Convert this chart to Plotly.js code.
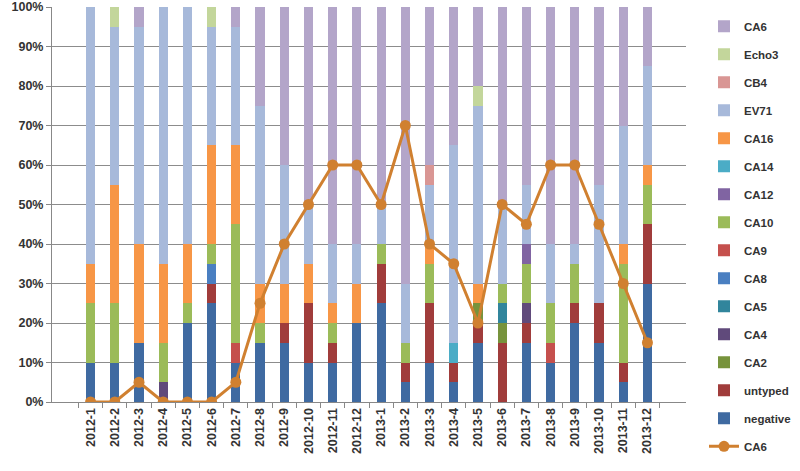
<!DOCTYPE html>
<html>
<head>
<meta charset="utf-8">
<script src="https://cdn.plot.ly/plotly-3.0.1.min.js"></script>
<style>html,body{margin:0;padding:0;background:#fff;}#chart{width:800px;height:471px;}</style>
</head>
<body>
<div id="chart"></div>
<script>
const categories = ["2012-1","2012-2","2012-3","2012-4","2012-5","2012-6","2012-7","2012-8","2012-9","2012-10","2012-11","2012-12",
                    "2013-1","2013-2","2013-3","2013-4","2013-5","2013-6","2013-7","2013-8","2013-9","2013-10","2013-11","2013-12"];
const negative = [10,10,15,0,20,25,10,15,15,10,10,20,25,5,10,5,15,0,15,10,20,15,5,30];
const untyped  = [0,0,0,0,0,5,0,0,5,15,5,0,10,5,15,5,5,15,5,0,5,10,5,15];
const CA2      = [0,0,0,0,0,0,0,0,0,0,0,0,0,0,0,0,5,5,0,0,0,0,0,0];
const CA4      = [0,0,0,5,0,0,0,0,0,0,0,0,0,0,0,0,0,0,5,0,0,0,0,0];
const CA5      = [0,0,0,0,0,0,0,0,0,0,0,0,0,0,0,0,0,5,0,0,0,0,0,0];
const CA8      = [0,0,0,0,0,5,0,0,0,0,0,0,0,0,0,0,0,0,0,0,0,0,0,0];
const CA9      = [0,0,0,0,0,0,5,0,0,0,0,0,0,0,0,0,0,0,0,5,0,0,0,0];
const CA10     = [15,15,0,10,5,5,30,5,0,0,5,0,5,5,10,0,0,5,10,10,10,0,25,10];
const CA12     = [0,0,0,0,0,0,0,0,0,0,0,0,0,0,0,0,0,0,5,0,0,0,0,0];
const CA14     = [0,0,0,0,0,0,0,0,0,0,0,0,0,0,0,5,0,0,0,0,0,0,0,0];
const CA16     = [10,30,25,20,15,25,20,10,10,10,5,10,0,0,5,0,5,0,0,0,0,0,5,5];
const EV71     = [65,40,55,65,60,30,30,45,30,15,15,10,10,15,15,50,45,20,15,15,5,30,30,25];
const CB4      = [0,0,0,0,0,0,0,0,0,0,0,0,0,0,5,0,0,0,0,0,0,0,0,0];
const Echo3    = [0,5,0,0,0,5,0,0,0,0,0,0,0,0,0,0,5,0,0,0,0,0,0,0];
const CA6      = [0,0,5,0,0,0,5,25,40,50,60,60,50,70,40,35,20,50,45,60,60,45,30,15];
const CA6line  = [0,0,5,0,0,0,5,25,40,50,60,60,50,70,40,35,20,50,45,60,60,45,30,15];

const series = [
  ["negative", negative, "#3F6AA1"],
  ["untyped", untyped, "#A03C3B"],
  ["CA2", CA2, "#77933C"],
  ["CA4", CA4, "#604A7B"],
  ["CA5", CA5, "#31859C"],
  ["CA8", CA8, "#4A7FC1"],
  ["CA9", CA9, "#C5504D"],
  ["CA10", CA10, "#9BBB59"],
  ["CA12", CA12, "#8064A2"],
  ["CA14", CA14, "#4BACC6"],
  ["CA16", CA16, "#F79646"],
  ["EV71", EV71, "#A7B9DA"],
  ["CB4", CB4, "#D99694"],
  ["Echo3", Echo3, "#C3D69B"],
  ["CA6", CA6, "#B3A5C9"]
];
const n = series.length;
const traces = series.map((s, i) => ({
  type: "bar", name: s[0], x: categories, y: s[1],
  marker: {color: s[2], line: {width: 0}},
  legendrank: n - i, legendgroup: "g" + i,
  hoverinfo: "name+y"
}));
traces.push({
  type: "scatter", mode: "lines+markers", name: "CA6", x: categories, y: CA6line,
  line: {color: "#D08030", width: 3},
  marker: {color: "#D08030", size: 11},
  legendrank: n + 1, legendgroup: "line"
});

const fam = "Liberation Sans, Arial, sans-serif";
const layout = {
  width: 800, height: 471,
  margin: {l: 52, r: 114, t: 7, b: 69},
  barmode: "stack", bargap: 0.62,
  paper_bgcolor: "#fff", plot_bgcolor: "#fff",
  font: {family: fam, size: 11, color: "#333"},
  showlegend: true,
  legend: {xref: "container", yref: "container", x: 0.88, y: 0.975, yanchor: "top", xanchor: "left",
           font: {family: fam, size: 11.5, color: "#333", weight: "bold"},
           tracegroupgap: 9, traceorder: "grouped", itemwidth: 30, maxheight: 465},
  xaxis: {type: "category", tickangle: -90, tickson: "boundaries", ticks: "outside", ticklen: 5,
          tickcolor: "#888", showline: true, linecolor: "#888", linewidth: 1, showgrid: false, automargin: false,
          tickfont: {family: fam, size: 12.5, color: "#333", weight: "bold"}},
  yaxis: {range: [0, 100], dtick: 10, ticksuffix: "%", showgrid: true, gridcolor: "#8c8c8c", gridwidth: 1,
          showline: true, linecolor: "#888", ticks: "outside", ticklen: 5, tickcolor: "#888",
          zeroline: false, fixedrange: true, automargin: false, ticklabeloverflow: "allow",
          tickfont: {family: fam, size: 12.5, color: "#333", weight: "bold"}}
};
Plotly.newPlot("chart", traces, layout, {displayModeBar: false, staticPlot: true});
</script>
</body>
</html>
